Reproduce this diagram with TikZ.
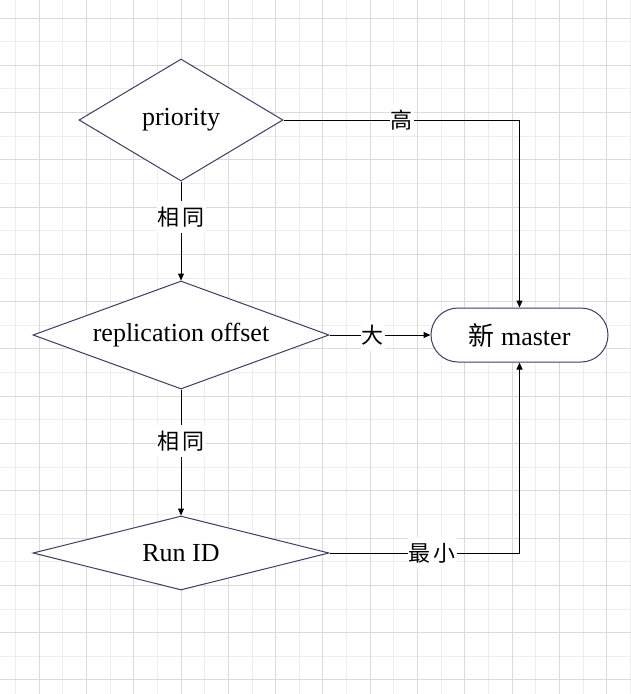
\documentclass[tikz,border=0pt]{standalone}
\usepackage{fontspec}
\setmainfont{Liberation Serif}
\newfontfamily\cjk{Noto Sans CJK SC}
\usetikzlibrary{arrows.meta,shapes.geometric}
\definecolor{gridmajor}{RGB}{218,218,218}
\definecolor{gridminor}{RGB}{238,238,238}
\definecolor{shapeline}{RGB}{60,60,100}
\tikzset{
  decision/.style={diamond,draw=shapeline,fill=white,inner sep=0pt,font=\fontsize{26}{30}\selectfont},
  terminal/.style={rectangle,rounded corners=27pt,draw=shapeline,fill=white,minimum width=177pt,minimum height=54pt,font=\fontsize{26}{30}\selectfont},
  flow/.style={-{Triangle[length=7pt,width=6pt]},black},
  cond/.style={fill=white,inner xsep=1pt,inner ysep=6pt,font=\cjk\fontsize{22}{24}\selectfont},
}

\begin{document}
\begin{tikzpicture}[x=1pt,y=-1pt,line width=1pt]
  \useasboundingbox (0,0) rectangle (631,694);
  \fill[white] (0,0) rectangle (631,694);
  % grid
  \foreach \i in {0,...,13} {
    \draw[gridminor] (15.66+47.28*\i,0) -- ++(0,694);
    \draw[gridminor] (0,41.64+47.28*\i) -- ++(631,0);
  }
  \foreach \i in {0,...,14} {
    \draw[gridmajor] (39.3+47.28*\i,0) -- ++(0,694);
    \draw[gridmajor] (0,18+47.28*\i) -- ++(631,0);
  }

  \node[decision,minimum width=204pt,minimum height=122pt,aspect=1.67] (prio) at (181,120) {priority};
  \node[decision,minimum width=296pt,minimum height=108pt,aspect=2.74] (offset) at (181,335) {replication offset};
  \node[decision,minimum width=296pt,minimum height=74pt,aspect=4] (runid) at (181,553) {Run ID};
  \node[terminal] (master) at (519.5,335) {{\cjk 新} master};

  \draw[flow] (prio.east) -| node[cond,pos=0.25] {高} (master.north);
  \draw[flow] (prio.south) -- node[cond,pos=0.36] {相\hspace{3pt}同} (offset.north);
  \draw[flow] (offset.east) -- node[cond,pos=0.43] {大} (master.west);
  \draw[flow] (offset.south) -- node[cond,pos=0.41] {相\hspace{3pt}同} (runid.north);
  \draw[flow] (runid.east) -| node[cond,pos=0.27] {最\hspace{3pt}小} (master.south);
\end{tikzpicture}
\end{document}
